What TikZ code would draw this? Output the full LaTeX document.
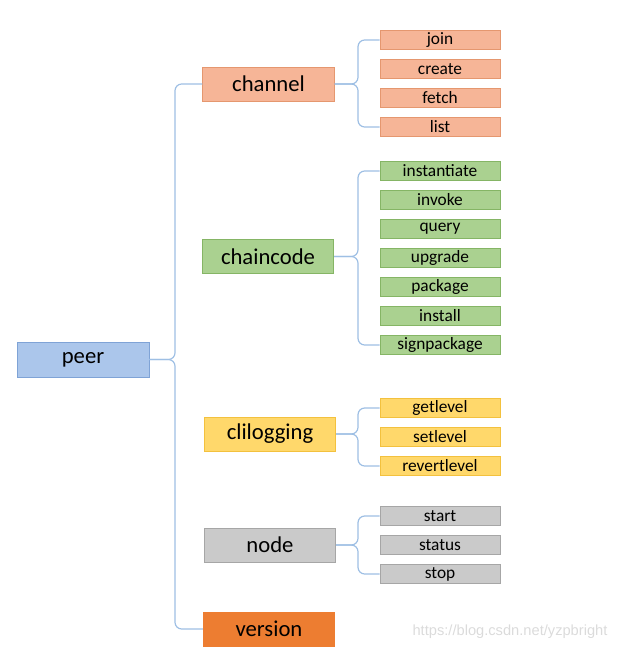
\documentclass[tikz,border=0pt]{standalone}
\usepackage{fontspec}
\setmainfont{Carlito}
\setsansfont{Liberation Sans}
\definecolor{peerfill}{HTML}{ABC6EB}
\definecolor{peerline}{HTML}{7FA3D6}
\definecolor{chanfill}{HTML}{F6B597}
\definecolor{chanline}{HTML}{E5976F}
\definecolor{codefill}{HTML}{AAD190}
\definecolor{codeline}{HTML}{85B565}
\definecolor{loggfill}{HTML}{FFD86B}
\definecolor{loggline}{HTML}{F3C13E}
\definecolor{nodefill}{HTML}{CACACA}
\definecolor{nodeline}{HTML}{A6A6A6}
\definecolor{versfill}{HTML}{ED7D31}
\definecolor{linkblue}{HTML}{9EBFE4}
\begin{document}
\begin{tikzpicture}[x=0.75pt, y=-0.75pt, node distance=21.75pt,
	box/.style={draw, line width=0.6pt, minimum width=98.5pt, minimum height=25.5pt, inner sep=0pt, font=\fontsize{17}{20}\selectfont},
	leaf/.style={draw, line width=0.6pt, minimum width=90pt, minimum height=14.5pt, inner sep=0pt, font=\fontsize{13}{15}\selectfont},
	chan/.style={fill=chanfill, draw=chanline},
	code/.style={fill=codefill, draw=codeline},
	logg/.style={fill=loggfill, draw=loggline},
	gray/.style={fill=nodefill, draw=nodeline},
	link/.style={draw=linkblue, line width=0.9pt, rounded corners=5pt}]
		\useasboundingbox (0,0) rectangle (625,663);
		% root and commands
		\node[box, fill=peerfill, draw=peerline, minimum width=99pt, minimum height=26.25pt] (peer) at (83,359.5) {peer};
		\node[box, chan] (channel) at (268.5,84) {channel};
		\node[box, code] (chaincode) at (268,256.5) {chaincode};
		\node[box, logg] (clilogging) at (270,434) {clilogging};
		\node[box, gray] (nodecmd) at (270,545) {node};
		\node[box, fill=versfill, draw=versfill] (version) at (269,629) {version};
		% channel
		\node[leaf, chan] (join) at (440,40) {join};
		\node[leaf, chan] (create) [below of=join] {create};
		\node[leaf, chan] (fetch) [below of=create] {fetch};
		\node[leaf, chan] (list) [below of=fetch] {list};
		% chaincode
		\node[leaf, code] (instantiate) at (440,171) {instantiate};
		\node[leaf, code] (invoke) [below of=instantiate] {invoke};
		\node[leaf, code] (query) [below of=invoke] {query};
		\node[leaf, code] (upgrade) [below of=query] {upgrade};
		\node[leaf, code] (package) [below of=upgrade] {package};
		\node[leaf, code] (install) [below of=package] {install};
		\node[leaf, code] (signpackage) [below of=install] {signpackage};
		% clilogging
		\node[leaf, logg] (getlevel) at (440,408) {getlevel};
		\node[leaf, logg] (setlevel) [below of=getlevel] {setlevel};
		\node[leaf, logg] (revertlevel) [below of=setlevel] {revertlevel};
		% node
		\node[leaf, gray] (start) at (440,516) {start};
		\node[leaf, gray] (status) [below of=start] {status};
		\node[leaf, gray] (stop) [below of=status] {stop};
		% brace tips
		\coordinate (pj) at (175,359.5);
		\coordinate (cj) at (358,84);
		\coordinate (kj) at (358,256.5);
		\coordinate (lj) at (358,434);
		\coordinate (nj) at (358,545);
		\draw[link] (channel.west) -| (pj) -- (peer.east);
		\draw[link] (version.west) -| (pj) -- (peer.east);
		\draw[link] (join.west) -| (cj) -- (channel.east);
		\draw[link] (list.west) -| (cj) -- (channel.east);
		\draw[link] (instantiate.west) -| (kj) -- (chaincode.east);
		\draw[link] (signpackage.west) -| (kj) -- (chaincode.east);
		\draw[link] (getlevel.west) -| (lj) -- (clilogging.east);
		\draw[link] (revertlevel.west) -| (lj) -- (clilogging.east);
		\draw[link] (start.west) -| (nj) -- (nodecmd.east);
		\draw[link] (stop.west) -| (nj) -- (nodecmd.east);
		\node[font=\sffamily\fontsize{11}{13}\selectfont, text=black!14] (mark) at (510,632) {https://blog.csdn.net/yzpbright};
\end{tikzpicture}
\end{document}
